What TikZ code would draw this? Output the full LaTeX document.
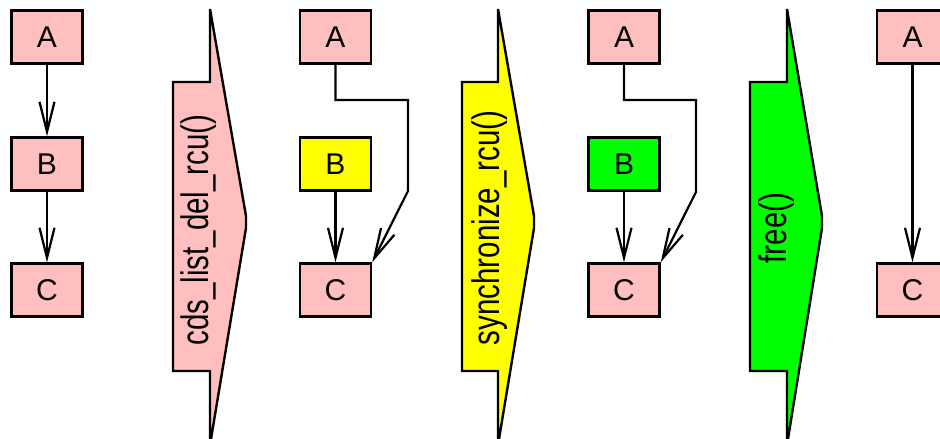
\documentclass[tikz,border=0pt]{standalone}
\usepackage{fontspec}
\setmainfont{Liberation Sans}
\usetikzlibrary{arrows.meta}
\definecolor{pinkf}{RGB}{255,191,191}
\definecolor{yellowf}{RGB}{255,255,0}
\definecolor{greenf}{RGB}{0,255,0}
\newcommand{\tallt}[1]{\scalebox{1}[1.3]{#1}}
\begin{document}
\begin{tikzpicture}[x=1pt,y=-1pt,
  box/.style={draw,line width=2.4pt,minimum width=71pt,minimum height=53pt,inner sep=0pt,
    font=\fontsize{30}{30}\selectfont},
  conn/.style={line width=2.2pt,-{Straight Barb[length=30pt,width=15pt,line width=2.2pt]}},
  stepshape/.style={draw,line width=2.4pt,line join=miter},
  steplabel/.style={rotate=90,inner sep=0pt,font=\fontsize{29.5}{30}\selectfont}]
\useasboundingbox (0,0) rectangle (940,439);
\clip (0,0) rectangle (940,439);
% column 1
\node[box,fill=pinkf] (a1) at (47,37) {A};
\node[box,fill=pinkf] (b1) at (47,164) {B};
\node[box,fill=pinkf] (c1) at (47,290) {C};
\draw[conn] (a1) -- (b1);
\draw[conn] (b1) -- (c1);
% step 1
\draw[stepshape,fill=pinkf] (210,9) -- (246,216) -- (246,228) -- (210,445) -- (210,371) -- (173,371) -- (173,82) -- (210,82) -- cycle;
\node[steplabel] (s1) at (199,230) {\tallt{cds\_list\_del\_rcu()}};
% column 2
\node[box,fill=pinkf] (a2) at (335.5,37) {A};
\node[box,fill=yellowf] (b2) at (335.5,164) {B};
\node[box,fill=pinkf] (c2) at (335.5,290) {C};
\coordinate (p2a) at (335.5,100);
\coordinate (p2b) at (408,100);
\coordinate (p2c) at (408,191);
\draw[conn] (a2.south) -- (p2a) -- (p2b) -- (p2c) -- (c2.north east);
\draw[conn] (b2) -- (c2);
% step 2
\draw[stepshape,fill=yellowf] (498,9) -- (534,216) -- (534,228) -- (498,445) -- (498,371) -- (462,371) -- (462,82) -- (498,82) -- cycle;
\node[steplabel] (s2) at (490,228) {\tallt{synchronize\_rcu()}};
% column 3
\node[box,fill=pinkf] (a3) at (624,37) {A};
\node[box,fill=greenf] (b3) at (624,164) {B};
\node[box,fill=pinkf] (c3) at (624,290) {C};
\coordinate (p3a) at (624,100);
\coordinate (p3b) at (696,100);
\coordinate (p3c) at (696,192);
\draw[conn] (a3.south) -- (p3a) -- (p3b) -- (p3c) -- (c3.north east);
\draw[conn] (b3) -- (c3);
% step 3
\draw[stepshape,fill=greenf] (787,9) -- (822,216) -- (822,228) -- (787,445) -- (787,371) -- (750,371) -- (750,82) -- (787,82) -- cycle;
\node[steplabel] (s3) at (777,228) {\tallt{free()}};
% column 4
\node[box,fill=pinkf] (a4) at (912.5,37) {A};
\node[box,fill=pinkf] (c4) at (912.5,290) {C};
\draw[conn] (a4) -- (c4);
\end{tikzpicture}
\end{document}
